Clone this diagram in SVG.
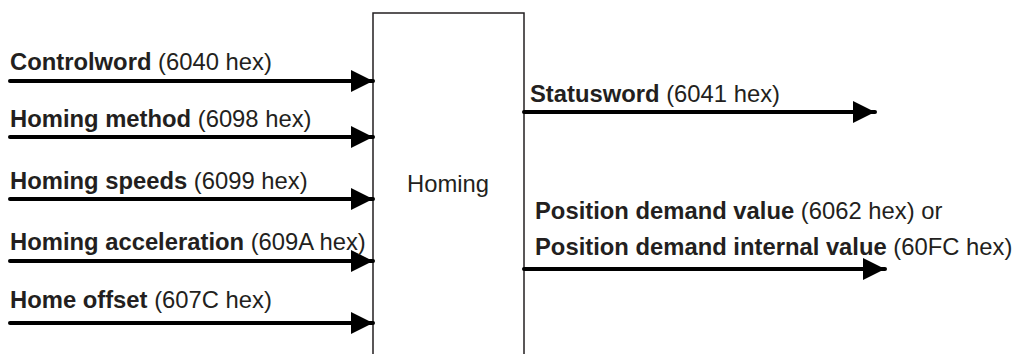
<svg xmlns="http://www.w3.org/2000/svg" width="1016" height="354" viewBox="0 0 1016 354">
<defs>
<style>
text{font-family:"Liberation Sans",Arial,sans-serif;font-size:23.8px;fill:#231f20}
.b{font-weight:bold}
.c line{stroke:#000;stroke-width:4;stroke-linecap:round}
</style>
<marker id="ah" markerUnits="userSpaceOnUse" markerWidth="22" markerHeight="22" refX="22" refY="11" orient="auto" viewBox="0 0 22 22">
<path d="M0,0 L22,11 L0,22 Z" fill="#000"/>
</marker>
</defs>
<rect width="1016" height="354" fill="#fff"/>
<g id="homing">
<rect x="373" y="13" width="151" height="360" fill="#fff" stroke="#231f20" stroke-width="1.5"/>
<text x="448" y="192" text-anchor="middle">Homing</text>
</g>
<g class="c" id="connectors">
<line x1="10" y1="81" x2="373" y2="81" marker-end="url(#ah)"/>
<line x1="10" y1="137" x2="373" y2="137" marker-end="url(#ah)"/>
<line x1="10" y1="199" x2="373" y2="199" marker-end="url(#ah)"/>
<line x1="10" y1="261" x2="373" y2="261" marker-end="url(#ah)"/>
<line x1="10" y1="323" x2="373" y2="323" marker-end="url(#ah)"/>
<line x1="524" y1="112" x2="875" y2="112" marker-end="url(#ah)"/>
<line x1="524" y1="269" x2="885" y2="269" marker-end="url(#ah)"/>
</g>
<g id="labels">
<text x="10" y="70"><tspan class="b">Controlword</tspan> (6040 hex)</text>
<text x="10" y="127"><tspan class="b">Homing method</tspan> (6098 hex)</text>
<text x="10" y="189"><tspan class="b">Homing speeds</tspan> (6099 hex)</text>
<text x="10" y="250"><tspan class="b">Homing acceleration</tspan> (609A hex)</text>
<text x="10" y="308"><tspan class="b">Home offset</tspan> (607C hex)</text>
<text x="530" y="102"><tspan class="b">Statusword</tspan> (6041 hex)</text>
<text x="535" y="219"><tspan class="b">Position demand value</tspan> (6062 hex) or</text>
<text x="535" y="255"><tspan class="b">Position demand internal value</tspan> (60FC hex)</text>
</g>
</svg>
